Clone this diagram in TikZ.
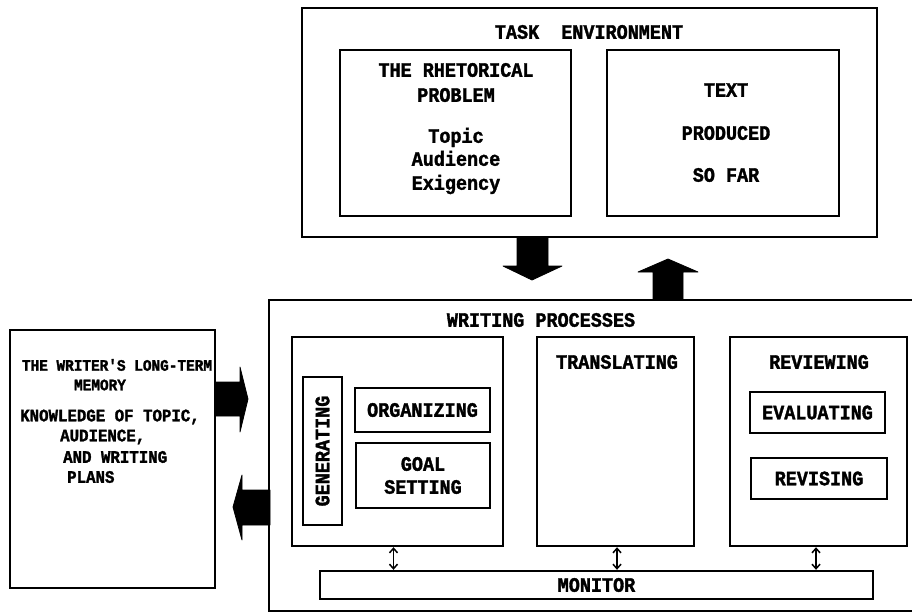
\documentclass[tikz,border=0pt]{standalone}
\usepackage{fontspec}
\newfontfamily\tw{Liberation Mono}[FakeStretch=0.9, BoldFeatures={FakeBold=1.6}]
\usetikzlibrary{arrows.meta}
\tikzset{
  box/.style={draw, line width=2.4pt, rectangle, inner sep=0pt},
  lbl/.style={font=\tw\bfseries\fontsize{20.5}{23}\selectfont, inner sep=0pt},
  mlbl/.style={font=\tw\bfseries\fontsize{16}{18}\selectfont, inner sep=0pt},
  nlbl/.style={font=\tw\bfseries\fontsize{17.5}{19}\selectfont, inner sep=0pt},
  dbl/.style={line width=1.5pt, {Straight Barb[length=4.5pt,width=8pt]}-{Straight Barb[length=4.5pt,width=8pt]}},
  blk/.style={fill=black, draw=black, line width=0.8pt, line join=round}
}
\begin{document}
\begin{tikzpicture}[x=1pt,y=-1pt]
\useasboundingbox[fill=white] (0,0) rectangle (912,614);
% task environment
\node[box, minimum width=575pt, minimum height=229pt] (task) at (589.5,122.5) {};
\node[lbl] (tasklbl) at (589,32) {TASK\ \ ENVIRONMENT};
\node[box, minimum width=231pt, minimum height=166pt] (rhet) at (455.5,133) {};
\node[lbl, align=center] (rhett) at (456,82.5) {THE RHETORICAL\\[2pt]PROBLEM};
\node[lbl, align=center] (rhetl) at (456,161) {Topic\\Audience\\[1pt]Exigency};
\node[box, minimum width=232pt, minimum height=166pt] (text) at (723,133) {};
\node[lbl] (t1) at (726,90) {TEXT};
\node[lbl] (t2) at (726,133) {PRODUCED};
\node[lbl] (t3) at (726,175) {SO FAR};
% writing processes
\node[box, minimum width=647pt, minimum height=311pt] (wp) at (592.5,455.5) {};
\node[lbl] (wplbl) at (541,320) {WRITING PROCESSES};
\node[box, minimum width=211pt, minimum height=209pt] (grp) at (397.5,441.5) {};
\node[box, rotate=90, minimum width=148pt, minimum height=39pt, lbl, inner sep=0pt] (gen) at (322.5,451) {GENERATING};
\node[box, minimum width=135pt, minimum height=44pt, lbl] (org) at (422.5,410) {ORGANIZING};
\node[box, minimum width=134pt, minimum height=65pt, lbl, align=center] (goal) at (423,475.5) {GOAL\\SETTING};
\node[box, minimum width=157pt, minimum height=209pt] (trans) at (615.5,441.5) {};
\node[lbl] (translbl) at (617,362) {TRANSLATING};
\node[box, minimum width=177pt, minimum height=209pt] (rev) at (818.5,441.5) {};
\node[lbl] (revlbl) at (819,362) {REVIEWING};
\node[box, minimum width=135pt, minimum height=41pt, lbl] (eval) at (817.5,412.5) {EVALUATING};
\node[box, minimum width=136pt, minimum height=41pt, lbl] (revis) at (819,478.5) {REVISING};
\node[box, minimum width=553pt, minimum height=28pt, lbl] (mon) at (596.5,585) {MONITOR};
\draw[dbl] (grp.south) ++(-4pt,0) coordinate (ga) -- (ga |- mon.north);
\draw[dbl] (trans.south) ++(1.5pt,0) coordinate (ta) -- (ta |- mon.north);
\draw[dbl] (rev.south) ++(-2.5pt,0) coordinate (ra) -- (ra |- mon.north);
% long-term memory
\node[box, minimum width=205pt, minimum height=258pt] (mem) at (112.5,459) {};
\node[mlbl] (m1) at (117,365) {THE WRITER'S LONG-TERM};
\node[mlbl] (m2) at (100,385) {MEMORY};
\node[nlbl] (m3) at (110,417) {KNOWLEDGE OF TOPIC,};
\node[nlbl, anchor=west] (m4) at (60,437) {AUDIENCE,};
\node[nlbl, anchor=west] (m5) at (63,457) {AND WRITING};
\node[nlbl, anchor=west] (m6) at (67,477) {PLANS};
% block arrows
\path[blk] (517,237) -- (548,237) -- (548,266) -- (562,266) -- (532,280) -- (503,266) -- (517,266) -- cycle;
\path[blk] (653,300) -- (683,300) -- (683,272) -- (698,272) -- (668,259) -- (638,272) -- (653,272) -- cycle;
\path[blk] (215,382) -- (240,382) -- (240,367) -- (248,399) -- (240,432) -- (240,416) -- (215,416) -- cycle;
\path[blk] (270,490) -- (242,490) -- (242,475) -- (233,507) -- (242,540) -- (242,525) -- (270,525) -- cycle;
\end{tikzpicture}
\end{document}
